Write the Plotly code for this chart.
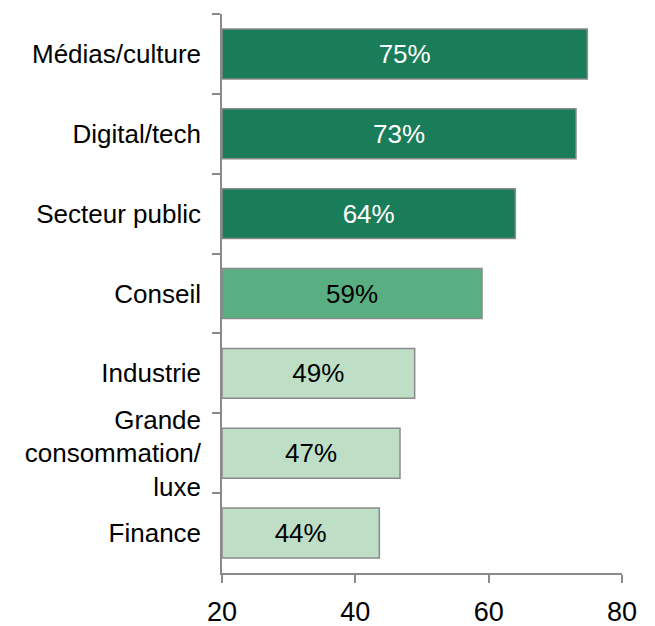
import plotly.graph_objects as go

categories = ["Médias/culture", "Digital/tech", "Secteur public", "Conseil",
              "Industrie", "Grande<br>consommation/<br>luxe", "Finance"]
values = [74.8, 73.1, 64.0, 59.0, 48.9, 46.7, 43.6]
value_labels = ["75%", "73%", "64%", "59%", "49%", "47%", "44%"]
bar_colors = ["#1A7D59", "#1A7D59", "#1A7D59", "#5AAF82", "#BEDFC6", "#BEDFC6", "#BEDFC6"]
text_colors = ["white", "white", "white", "black", "black", "black", "black"]
x_ticks = [20, 40, 60, 80]
axis_min, axis_max = 20, 80

FONT = "Liberation Sans, Arial, sans-serif"

fig = go.Figure(go.Bar(
    y=categories,
    x=[v - axis_min for v in values],
    base=axis_min,
    orientation="h",
    width=0.625,
    marker=dict(color=bar_colors, line=dict(color="#8A8A8A", width=1.5)),
    text=value_labels,
    textposition="inside",
    insidetextanchor="middle",
    textangle=0,
    textfont=dict(family=FONT, size=26, color=text_colors),
    hoverinfo="skip",
))

fig.update_layout(
    width=655, height=626,
    margin=dict(l=222, r=33, t=14, b=53),
    plot_bgcolor="white", paper_bgcolor="white",
    showlegend=False,
    font=dict(family=FONT, size=26, color="black"),
    xaxis=dict(
        range=[axis_min, axis_max], tickvals=x_ticks, ticktext=[str(t) for t in x_ticks],
        showgrid=False, zeroline=False, automargin=False,
        showline=True, linecolor="#8A8A8A", linewidth=1.5,
        ticks="outside", ticklen=8, tickwidth=1.5, tickcolor="#8A8A8A",
        tickfont=dict(family=FONT, size=27, color="black"),
        ticklabelstandoff=6,
    ),
    yaxis=dict(
        categoryorder="array", categoryarray=categories,
        range=[len(categories) - 0.5, -0.5],
        showgrid=False, zeroline=False, automargin=False,
        showline=True, linecolor="#8A8A8A", linewidth=1.5,
        ticks="outside", tickson="boundaries", ticklen=8, tickwidth=1.5, tickcolor="#8A8A8A",
        tickfont=dict(family=FONT, size=26, color="black"),
        ticklabelstandoff=14,
    ),
)

fig.write_html("out.html")
